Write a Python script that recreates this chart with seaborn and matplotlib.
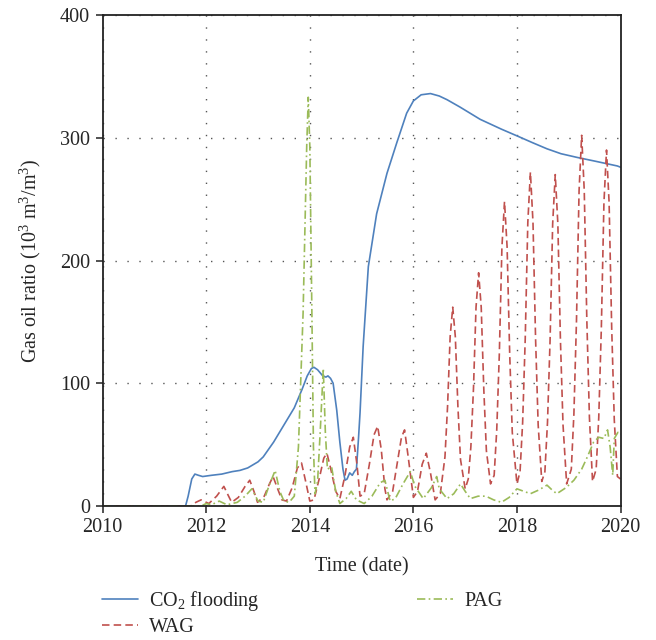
import matplotlib
matplotlib.use("Agg")
import matplotlib.pyplot as plt
import seaborn as sns
import pandas as pd

# ---------------- data ----------------
co2_t = [2010.00, 2011.60, 2011.65, 2011.72, 2011.78, 2011.85, 2011.93, 2012.10, 2012.30,
         2012.50, 2012.65, 2012.80, 2013.00, 2013.10, 2013.30, 2013.50, 2013.70, 2013.85,
         2013.95, 2014.03, 2014.08, 2014.15, 2014.25, 2014.31, 2014.35, 2014.40, 2014.45,
         2014.52, 2014.58, 2014.64, 2014.68, 2014.72, 2014.77, 2014.82, 2014.86, 2014.90,
         2014.94, 2014.97, 2015.03, 2015.13, 2015.29, 2015.49, 2015.68, 2015.87, 2016.00,
         2016.15, 2016.33, 2016.50, 2016.65, 2016.90, 2017.29, 2017.70, 2018.03, 2018.30,
         2018.58, 2018.85, 2019.16, 2019.50, 2019.94, 2020.00]
co2_v = [0, 0, 8, 22, 26, 25, 24, 25, 26,
         28, 29, 31, 36, 40, 52, 66, 80, 95,
         106, 112, 113, 111, 106, 105, 106, 104, 100,
         78, 52, 30, 21, 22, 27, 25, 28, 30,
         55, 76, 130, 195, 238, 271, 296, 320, 330,
         335, 336, 334, 331, 325, 315, 307, 301, 296,
         291, 287, 284, 281, 277, 276]

wag_t = [2010.00, 2011.70, 2011.80, 2011.90, 2012.05, 2012.20, 2012.34, 2012.42, 2012.49,
         2012.62, 2012.75, 2012.84, 2012.92, 2012.99, 2013.12, 2013.22, 2013.29, 2013.37,
         2013.46, 2013.55, 2013.66, 2013.76, 2013.84, 2013.92, 2014.00, 2014.08, 2014.18,
         2014.27, 2014.33, 2014.40, 2014.50, 2014.58, 2014.68, 2014.77, 2014.84, 2014.91,
         2014.97, 2015.05, 2015.15, 2015.24, 2015.31, 2015.38, 2015.45, 2015.49, 2015.60,
         2015.70, 2015.77, 2015.83, 2015.90, 2016.00, 2016.08, 2016.17, 2016.25, 2016.33,
         2016.42, 2016.52, 2016.61, 2016.66, 2016.71, 2016.76, 2016.81, 2016.86, 2016.91,
         2017.00, 2017.06, 2017.11, 2017.16, 2017.21, 2017.26, 2017.31, 2017.36, 2017.41,
         2017.49, 2017.56, 2017.61, 2017.66, 2017.71, 2017.76, 2017.81, 2017.86, 2017.91,
         2018.00, 2018.06, 2018.11, 2018.16, 2018.21, 2018.26, 2018.31, 2018.36, 2018.41,
         2018.48, 2018.54, 2018.59, 2018.64, 2018.69, 2018.74, 2018.79, 2018.84, 2018.89,
         2018.96, 2019.05, 2019.10, 2019.15, 2019.20, 2019.25, 2019.30, 2019.35, 2019.40,
         2019.46, 2019.53, 2019.58, 2019.63, 2019.68, 2019.73, 2019.78, 2019.83, 2019.88,
         2019.94, 2020.00]
wag_v = [0, 0, 3, 5, 2, 8, 16, 9, 3,
         7, 16, 21, 12, 3, 8, 18, 24, 15,
         5, 4, 15, 31, 35, 20, 4, 5, 22,
         39, 43, 31, 12, 6, 25, 48, 56, 34,
         8, 10, 34, 58, 65, 46, 14, 5, 12,
         38, 56, 62, 40, 7, 12, 34, 43, 27,
         5, 10, 40, 81, 138, 162, 138, 81, 38,
         14, 22, 48, 95, 162, 190, 162, 95, 45,
         18, 25, 62, 124, 211, 248, 211, 124, 60,
         18, 28, 68, 136, 231, 272, 231, 136, 66,
         20, 28, 68, 135, 230, 270, 230, 135, 66,
         18, 30, 75, 151, 257, 302, 257, 151, 72,
         20, 30, 72, 145, 247, 290, 247, 145, 70,
         24, 22]

pag_t = [2010.00, 2011.90, 2012.00, 2012.10, 2012.25, 2012.40, 2012.60, 2012.75, 2012.88,
         2013.00, 2013.10, 2013.20, 2013.33, 2013.42, 2013.50, 2013.60, 2013.70, 2013.78,
         2013.87, 2013.94, 2013.97, 2014.00, 2014.04, 2014.07, 2014.10, 2014.15, 2014.20,
         2014.26, 2014.30, 2014.34, 2014.42, 2014.50, 2014.58, 2014.70, 2014.80, 2014.90,
         2015.05, 2015.20, 2015.36, 2015.45, 2015.55, 2015.65, 2015.80, 2015.94, 2016.03,
         2016.19, 2016.35, 2016.45, 2016.50, 2016.65, 2016.78, 2016.91, 2017.00, 2017.10,
         2017.25, 2017.40, 2017.55, 2017.70, 2017.85, 2018.00, 2018.13, 2018.26, 2018.42,
         2018.58, 2018.68, 2018.77, 2018.95, 2019.10, 2019.25, 2019.36, 2019.48, 2019.58,
         2019.68, 2019.75, 2019.80, 2019.85, 2019.88, 2019.95, 2020.00]
pag_v = [0, 0, 2, 1, 4, 1, 3, 8, 14,
         4, 3, 15, 29, 12, 4, 3, 8, 48,
         157, 293, 333, 293, 157, 48, 10, 20, 60,
         112, 60, 30, 32, 12, 2, 6, 12, 5,
         2, 8, 19, 21, 4, 6, 18, 28, 16,
         6, 15, 24, 14, 6, 10, 18, 12, 6,
         8, 8, 5, 3, 7, 14, 12, 10, 13,
         17, 13, 10, 15, 21, 30, 40, 52, 56,
         55, 62, 48, 25, 55, 60, 58]

series_names = ["CO$_2$ flooding", "WAG", "PAG"]
x_ticks = [2010, 2012, 2014, 2016, 2018, 2020]
y_ticks = [0, 100, 200, 300, 400]

# ---------------- style ----------------
sns.set_style("ticks")
plt.rcParams["font.family"] = ["Liberation Serif", "DejaVu Serif"]
plt.rcParams["mathtext.fontset"] = "custom"
plt.rcParams["mathtext.rm"] = "Liberation Serif"
plt.rcParams["mathtext.it"] = "Liberation Serif:italic"
plt.rcParams["mathtext.bf"] = "Liberation Serif:bold"
FS = 14.5

fig = plt.figure(figsize=(6.56, 6.4), dpi=100)
ax = fig.add_axes([102.7 / 656, 1 - 506 / 640, (620.5 - 102.7) / 656, (506 - 15) / 640])

df_co2 = pd.DataFrame({"t": co2_t, "v": co2_v})
df_wag = pd.DataFrame({"t": wag_t, "v": wag_v})
df_pag = pd.DataFrame({"t": pag_t, "v": pag_v})

sns.lineplot(data=df_co2, x="t", y="v", ax=ax, color="#4F81BD", linewidth=1.2,
             estimator=None, sort=False, label=series_names[0])
sns.lineplot(data=df_wag, x="t", y="v", ax=ax, color="#C0504D", linewidth=1.2,
             estimator=None, sort=False, label=series_names[1],
             linestyle=(0, (4.5, 2.5)))
sns.lineplot(data=df_pag, x="t", y="v", ax=ax, color="#9BBB59", linewidth=1.2,
             estimator=None, sort=False, label=series_names[2],
             linestyle=(0, (5, 2, 1, 2)))

ax.set_xlim(2010, 2020)
ax.set_ylim(0, 400)
ax.set_xticks(x_ticks)
ax.set_xticklabels([str(v) for v in x_ticks])
ax.set_yticks(y_ticks)
ax.set_yticklabels([str(v) for v in y_ticks])
ax.tick_params(axis="both", direction="out", length=5, width=1.2, color="#333333",
               labelsize=FS, pad=4, top=False, right=False)

ax.grid(True, linestyle=(0, (1, 7.6)), color="#555555", linewidth=1.0)
ax.set_axisbelow(True)
for s in ax.spines.values():
    s.set_visible(True)
    s.set_color("#222222")
    s.set_linewidth(1.3)

ax.set_xlabel("Time (date)", fontsize=FS, labelpad=14)
ax.set_ylabel("Gas oil ratio (10$^3$ m$^3$/m$^3$)", fontsize=FS, labelpad=12)

handles, labels = ax.get_legend_handles_labels()
if ax.get_legend() is not None:
    ax.get_legend().remove()
fig.legend(handles, labels, loc="upper left", bbox_to_anchor=(102 / 656, 1 - 589 / 640),
           ncol=2, frameon=False, fontsize=FS, borderpad=0, borderaxespad=0,
           handlelength=1.8, handletextpad=0.55, columnspacing=7.8, labelspacing=0.25)

fig.savefig("out.png", dpi=100)
